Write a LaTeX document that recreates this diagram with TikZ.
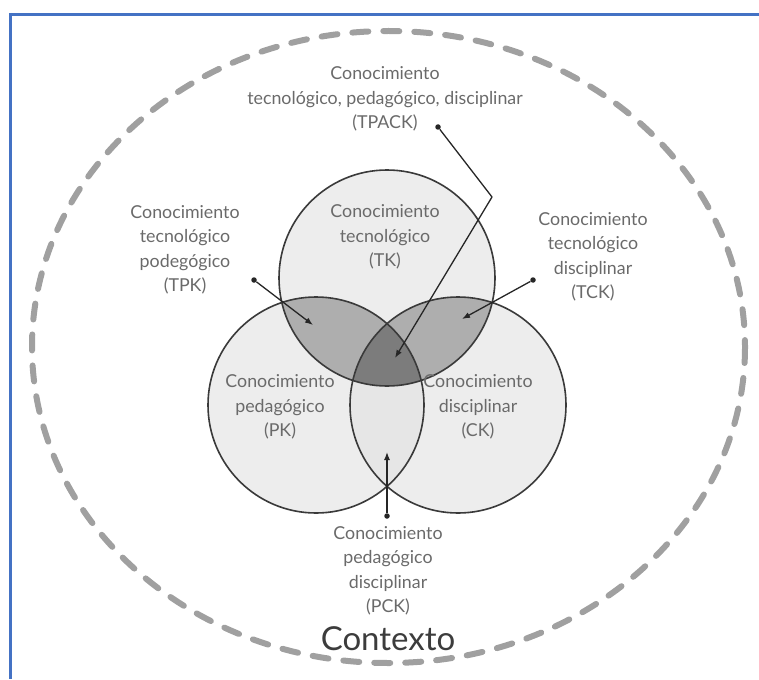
\documentclass[tikz,border=0pt]{standalone}
\usepackage{fontspec}
\setmainfont{Lato}
\usetikzlibrary{arrows.meta}
\definecolor{frameblue}{HTML}{4472C4}
\definecolor{dashgray}{HTML}{A0A0A0}
\definecolor{circfill}{HTML}{EDEDED}
\definecolor{pckfill}{HTML}{E6E6E6}
\definecolor{pairfill}{HTML}{AEAEAE}
\definecolor{centerfill}{HTML}{7C7C7C}
\definecolor{outline}{HTML}{3A3A3A}
\definecolor{txtgray}{HTML}{6A6A6A}
\definecolor{ctxgray}{HTML}{3C3C3C}
\begin{document}
\begin{tikzpicture}[x=1pt,y=-1pt,
  lbl/.style={align=center, text=txtgray, inner sep=0pt, font=\fontsize{17.8}{24.5}\selectfont},
  ctx/.style={text=ctxgray, inner sep=0pt, font=\fontsize{33}{38}\selectfont},
  ring/.style={draw=outline, line width=1.6pt},
  ctxring/.style={draw=dashgray, line width=6pt, line cap=round, dash pattern=on 16pt off 15pt},
  blueline/.style={draw=frameblue, line width=3pt},
  dotnode/.style={circle, fill=black!85, inner sep=0pt, minimum size=5.5pt},
  lead/.style={draw=black!85, line width=1.3pt, -{Latex[length=8pt,width=6pt]}},
  leadplain/.style={draw=black!85, line width=1.3pt}
]
\useasboundingbox (0,0) rectangle (759,679);
% frame
\draw[blueline] (10,14.5) -- (759,14.5);
\draw[blueline] (10,13) -- (10,679);
% context ellipse
\draw[ctxring] (388.5,347) ellipse [x radius=356.5, y radius=316];
% circles fill
\def\TK{(387,278) circle [radius=108]}
\def\PK{(316,405) circle [radius=108]}
\def\CK{(458,405) circle [radius=108]}
\fill[circfill] \TK;
\fill[circfill] \PK;
\fill[circfill] \CK;
\begin{scope}\clip \PK; \fill[pckfill] \CK; \end{scope}
\begin{scope}\clip \TK; \fill[pairfill] \PK; \fill[pairfill] \CK; \end{scope}
\begin{scope}\clip \TK; \clip \PK; \fill[centerfill] \CK; \end{scope}
\draw[ring] \TK;
\draw[ring] \PK;
\draw[ring] \CK;
% labels
\node[lbl] (tpack) at (385,99) {Conocimiento\\tecnológico, pedagógico, disciplinar\\(TPACK)};
\node[lbl] (tpk) at (185,250) {Conocimiento\\tecnológico\\podegógico\\(TPK)};
\node[lbl] (tck) at (593,257) {Conocimiento\\tecnológico\\disciplinar\\(TCK)};
\node[lbl] (tk) at (385,237) {Conocimiento\\tecnológico\\(TK)};
\node[lbl] (pk) at (280,407) {Conocimiento\\pedagógico\\(PK)};
\node[lbl] (ck) at (478,407) {Conocimiento\\disciplinar\\(CK)};
\node[lbl] (pck) at (388,571) {Conocimiento\\pedagógico\\disciplinar\\(PCK)};
\node[ctx] (contexto) at (388,639) {Contexto};
% leaders
\node[dotnode] (dtpk) at (254,280) {};
\coordinate (atpk) at (313,325);
\node[dotnode] (dtck) at (533,280) {};
\coordinate (atck) at (462,319);
\node[dotnode] (dtpack) at (438,127) {};
\coordinate (ktpack) at (492,197);
\coordinate (atpack) at (395,358);
\node[dotnode] (dpck) at (387,516) {};
\coordinate (apck) at (387,452);
\draw[lead] (dtpk) -- (atpk);
\draw[lead] (dtck) -- (atck);
\draw[leadplain] (dtpack) -- (ktpack);
\draw[lead] (ktpack) -- (atpack);
\draw[lead] (dpck) -- (apck);
\end{tikzpicture}
\end{document}
